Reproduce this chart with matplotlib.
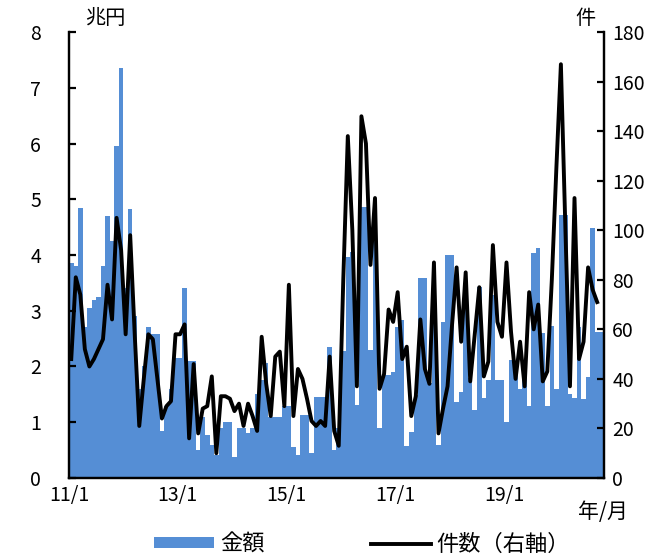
import numpy as np
import matplotlib
matplotlib.use("Agg")
import matplotlib.pyplot as plt
from matplotlib.patches import Patch
from matplotlib.lines import Line2D

plt.rcParams['font.family'] = ['Noto Sans CJK JP', 'DejaVu Sans']

# 2011/1 - 2020/10, monthly
amount = [  # 金額 (兆円)
    3.85, 3.80, 4.85, 2.70, 3.05, 3.20, 3.25, 3.80, 4.70, 4.25, 5.95, 7.35,
    3.40, 4.82, 2.90, 1.60, 2.00, 2.70, 2.58, 2.58, 0.85, 1.30, 1.60, 2.15,
    2.15, 3.40, 2.10, 2.10, 0.50, 1.10, 0.77, 0.60, 0.42, 0.90, 1.00, 1.00,
    0.38, 0.90, 0.90, 0.80, 0.90, 1.50, 1.75, 2.06, 1.10, 1.10, 1.10, 1.30,
    1.30, 0.56, 0.41, 1.13, 1.13, 0.44, 1.46, 1.46, 1.46, 2.35, 0.50, 0.90,
    2.27, 3.97, 4.05, 1.31, 4.87, 4.87, 2.30, 4.90, 0.89, 1.85, 1.85, 1.90,
    2.71, 2.83, 0.58, 0.83, 1.49, 3.58, 3.58, 1.70, 3.37, 0.60, 2.80, 4.00,
    4.00, 1.37, 1.55, 3.46, 1.80, 1.22, 3.43, 1.43, 1.76, 3.28, 1.76, 1.76,
    1.00, 2.12, 1.97, 1.60, 1.95, 1.30, 4.03, 4.13, 2.60, 1.30, 2.72, 1.60,
    4.72, 4.72, 1.50, 1.43, 2.70, 1.41, 1.81, 4.48, 2.62, 2.62,
]
count = [  # 件数 (右軸)
    48, 81, 74, 52, 45, 48, 52, 56, 78, 64, 105, 92,
    58, 98, 58, 21, 40, 58, 56, 40, 24, 29, 31, 58,
    58, 62, 16, 46, 18, 28, 29, 41, 10, 33, 33, 32,
    27, 30, 21, 30, 25, 19, 57, 38, 25, 49, 51, 29,
    78, 25, 44, 40, 32, 23, 21, 23, 21, 49, 19, 13,
    80, 138, 100, 37, 146, 135, 86, 113, 36, 42, 68, 63,
    75, 48, 53, 25, 33, 64, 44, 38, 87, 18, 28, 37,
    62, 85, 55, 83, 39, 58, 77, 41, 47, 94, 63, 57,
    87, 59, 40, 55, 37, 75, 60, 70, 39, 43, 80, 125,
    167, 100, 37, 113, 48, 55, 85, 76, 71,
]
tick_pos = [0, 24, 48, 72, 96]
tick_labels = ['11/1', '13/1', '15/1', '17/1', '19/1']

n = len(amount)
x = np.arange(n) + 0.5

fig = plt.figure(figsize=(6.71, 5.54), dpi=100)
ax = fig.add_axes([0.1028, 0.1372, 0.7973, 0.805])
ax2 = ax.twinx()

ax.bar(x, amount, width=1.0, color='#558ED5', linewidth=0)
ax2.plot(x[:len(count)], count, color='black', linewidth=2.8)

ax.set_xlim(0, n)
ax.set_ylim(0, 8)
ax2.set_ylim(0, 180)
ax.set_yticks(range(0, 9))
ax2.set_yticks(range(0, 181, 20))
ax.set_xticks(tick_pos)
ax.set_xticklabels(tick_labels)

for a in (ax, ax2):
    a.spines['top'].set_visible(False)
    for s in ('left', 'right', 'bottom'):
        a.spines[s].set_linewidth(1.6)
ax.tick_params(axis='y', direction='in', length=5, width=1.6, pad=20, labelsize=14)
ax2.tick_params(axis='y', direction='in', length=5, width=1.6, pad=6, labelsize=14)
ax.tick_params(axis='x', length=0, pad=5, labelsize=14)

fig.text(0.127, 0.967, '兆円', fontsize=14.5, ha='left', va='center')
fig.text(0.857, 0.967, '件', fontsize=14.5, ha='left', va='center')
fig.text(0.861, 0.076, '年/月', fontsize=15, ha='left', va='center')

handles = [Patch(facecolor='#558ED5', edgecolor='none'),
           Line2D([0], [0], color='black', linewidth=2.8)]
fig.legend(handles, ['金額', '件数（右軸）'], loc='center', bbox_to_anchor=(0.54, 0.018),
           ncol=2, frameon=False, fontsize=16, handlelength=2.7, handleheight=0.4,
           columnspacing=4.8, handletextpad=0.25)

fig.savefig('out.png', dpi=100)
